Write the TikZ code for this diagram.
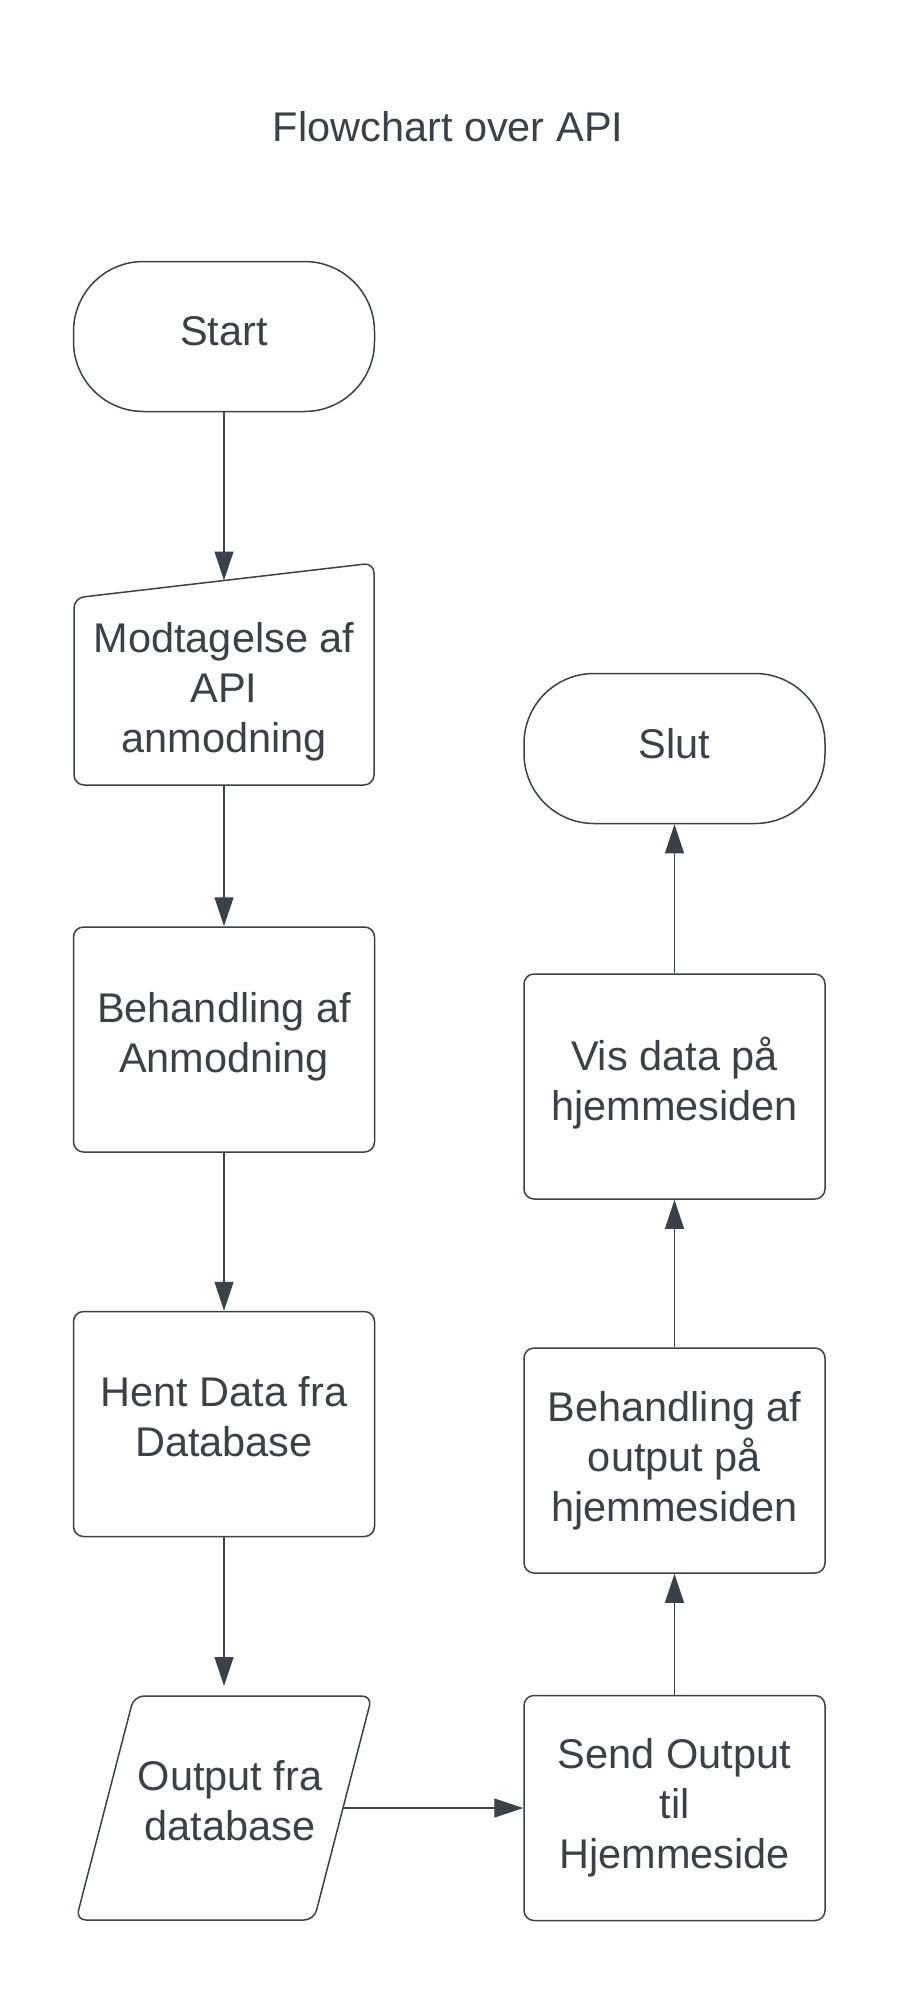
\documentclass[tikz,border=0pt]{standalone}
\usepackage{fontspec}
\setmainfont{Liberation Sans}
\usetikzlibrary{arrows.meta}
\definecolor{ink}{HTML}{3A414A}
\begin{document}
\begin{tikzpicture}[x=1pt,y=-1pt,
  txt/.style={text=ink, align=center, inner sep=0pt, font=\fontsize{41.5}{50}\selectfont},
  box/.style={draw=ink, line width=1.5pt, rounded corners=10pt, minimum width=301pt, minimum height=225pt, inner sep=0pt},
  term/.style={box, rounded corners=70pt, minimum height=150pt},
  outline/.style={draw=ink, line width=1.5pt, rounded corners=10pt},
  flow/.style={draw=ink, line width=1.2pt, -{Triangle[length=29pt,width=19pt]}}]
\fill[white] (0,0) rectangle (900,1997);
\useasboundingbox (0,0) rectangle (900,1997);

\node[txt] (title) at (448,127) {Flowchart over API};

% left column
\node[term] (start) at (224,336.5) {};
\node[txt] (startT) at (224,331.5) {Start};

\draw[outline] (74,598) -- (374,563) -- (374,785) -- (74,785) -- cycle;
\node[txt] (modt) at (224,692) {Modtagelse af\\API\\anmodning};
\coordinate (modtTop) at (224,580.5);
\coordinate (modtBot) at (224,785);

\node[box] (behA) at (224,1039.5) {};
\node[txt] (behAT) at (224,1036.5) {Behandling af\\Anmodning};
\node[box] (hent) at (224,1424) {};
\node[txt] (hentT) at (224,1417) {Hent Data fra\\Database};

\draw[outline] (134,1696) -- (372,1696) -- (314,1920) -- (76,1920) -- cycle;
\node[txt] (outp) at (230,1801) {Output fra\\database};
\coordinate (outTop) at (224,1686);
\coordinate (outRight) at (343,1808);

% right column
\node[box] (send) at (674.5,1808) {};
\node[txt] (sendT) at (674.5,1808) {Send Output\\til\\Hjemmeside};
\node[box] (behO) at (674.5,1460.5) {};
\node[txt] (behOT) at (674.5,1460.5) {Behandling af\\output på\\hjemmesiden};
\node[box] (vis) at (674.5,1086.5) {};
\node[txt] (visT) at (674.5,1083.5) {Vis data på\\hjemmesiden};
\node[term] (slut) at (674.5,748.5) {};
\node[txt] (slutT) at (674.5,743.5) {Slut};

% connectors
\draw[flow] (start.south) -- (modtTop);
\draw[flow] (modtBot) -- (behA.north);
\draw[flow] (behA.south) -- (hent.north);
\draw[flow] (hent.south) -- (outTop);
\draw[flow] (outRight) -- (send.west);
\draw[flow] (send.north) -- (behO.south);
\draw[flow] (behO.north) -- (vis.south);
\draw[flow] (vis.north) -- (slut.south);
\end{tikzpicture}
\end{document}
